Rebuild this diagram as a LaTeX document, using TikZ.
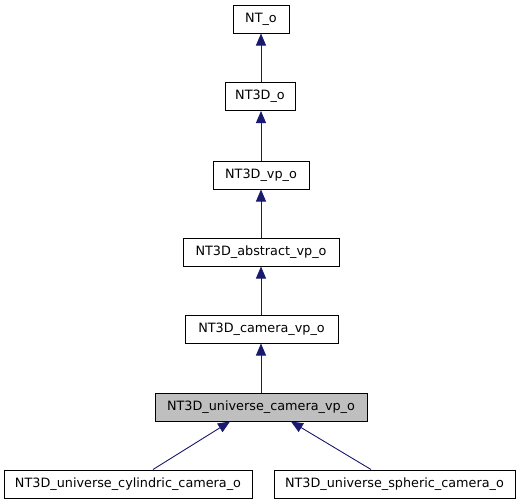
\documentclass[tikz,border=0pt]{standalone}
\usepackage{fontspec}
\setmainfont{DejaVu Sans}
\usetikzlibrary{arrows.meta}
\definecolor{edgeblue}{HTML}{191970}
\begin{document}
\begin{tikzpicture}[x=1pt,y=-1pt,
  cls/.style={draw=black,line width=1pt,fill=white,minimum height=28pt,inner sep=0pt,font=\fontsize{12.8pt}{14pt}\selectfont},
  cur/.style={cls,fill=black!25},
  inh/.style={draw=edgeblue,line width=0.9pt,{Triangle[length=12pt,width=10pt,fill=edgeblue]}-}]
\useasboundingbox (0,0) rectangle (523,504);
\fill[white] (0,0) rectangle (523,504);
\node[cls,minimum width=56pt] (nt) at (261,19) {NT\_o};
\node[cls,minimum width=70pt] (nt3d) at (260,96.5) {NT3D\_o};
\node[cls,minimum width=96pt] (vp) at (261,175) {NT3D\_vp\_o};
\node[cls,minimum width=156pt] (abs) at (261,252) {NT3D\_abstract\_vp\_o};
\node[cls,minimum width=153pt] (cam) at (261.5,329) {NT3D\_camera\_vp\_o};
\node[cur,minimum width=212pt] (uni) at (261,407.5) {NT3D\_universe\_camera\_vp\_o};
\node[cls,minimum width=248pt] (cyl) at (128,484) {NT3D\_universe\_cylindric\_camera\_o};
\node[cls,minimum width=241pt] (sph) at (394.5,484) {NT3D\_universe\_spheric\_camera\_o};
\draw[inh] (nt.south -| 261,0) -- (nt3d.north -| 261,0);
\draw[inh] (nt3d.south -| 261,0) -- (vp.north);
\draw[inh] (vp.south) -- (abs.north);
\draw[inh] (abs.south) -- (cam.north -| 261,0);
\draw[inh] (cam.south -| 261,0) -- (uni.north);
\coordinate (ua) at (230,421.5);
\coordinate (ub) at (291,421.5);
\draw[inh] (ua) -- (cyl.north -| 153,0);
\draw[inh] (ub) -- (sph.north -| 371,0);
\end{tikzpicture}
\end{document}
